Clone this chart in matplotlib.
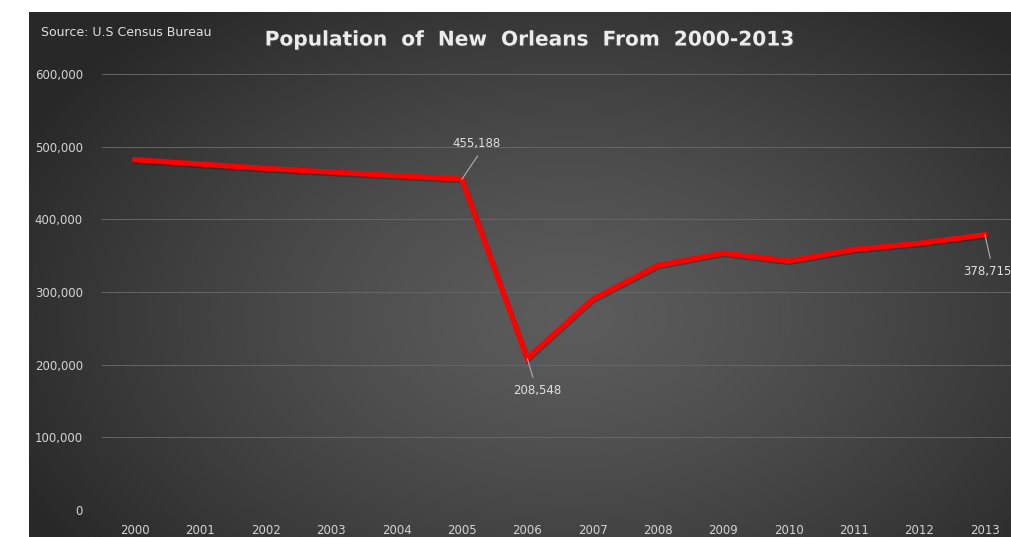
import numpy as np
import matplotlib
matplotlib.use("Agg")
import matplotlib.pyplot as plt
import matplotlib.patheffects as pe
from matplotlib.ticker import FuncFormatter

# data
years = ["2000", "2001", "2002", "2003", "2004", "2005", "2006",
         "2007", "2008", "2009", "2010", "2011", "2012", "2013"]
population = [482000, 476000, 470000, 465000, 460000, 455188, 208548,
              290000, 336500, 353500, 342500, 358500, 367000, 378715]
y_ticks = [0, 100000, 200000, 300000, 400000, 500000, 600000]

W, H = 1011, 537
fig = plt.figure(figsize=(W / 100, H / 100), dpi=100)
fig.patch.set_facecolor("white")

# ----------------------
# background panel with radial gradient
# ----------------------
bg = fig.add_axes([29 / W, 0, 1 - 29 / W, (H - 12) / H])
bg.set_axis_off()
gx, gy = np.meshgrid(np.linspace(0, 1, 400), np.linspace(0, 1, 220))
r = np.sqrt(((gx - 0.55) / 0.62) ** 2 + ((gy - 0.58) / 0.75) ** 2)
r = np.clip(r, 0, 1)
shade = 0.36 - 0.20 * r ** 1.3
img = np.dstack([shade, shade, shade])
bg.imshow(img, aspect="auto", extent=[0, 1, 0, 1], origin="upper")
bg.set_xlim(0, 1)
bg.set_ylim(0, 1)

# ----------------------
# main plot area
# ----------------------
x0_px, step_px = 135, 65.38
left_px = x0_px - step_px / 2
ax = fig.add_axes([left_px / W, 27 / H, (W - left_px) / W, (510 - 74) / H])
ax.patch.set_alpha(0)
x = np.arange(len(years))
ax.set_xlim(-0.5, (W - x0_px) / step_px)
ax.set_ylim(0, 600000)

ax.set_yticks(y_ticks)
ax.yaxis.set_major_formatter(FuncFormatter(lambda v, p: f"{int(v):,}"))
ax.set_xticks(x)
ax.set_xticklabels(years)
ax.tick_params(axis="both", length=0, colors="#d4d4d4", labelsize=8.5)
ax.tick_params(axis="y", pad=14)
ax.tick_params(axis="x", pad=10)
ax.grid(axis="y", color="#666666", linewidth=0.7)
ax.set_axisbelow(True)
for s in ax.spines.values():
    s.set_visible(False)

ax.plot(x, population, color="#ff0000", linewidth=3.8, solid_joinstyle="miter",
        path_effects=[pe.SimpleLineShadow(offset=(0.5, -1), alpha=0.25), pe.Normal()],
        zorder=3)

# data labels with leader lines: (offset x, offset y, relpos on text)
labels = {5: (15, 36, (0.6, 0.0)), 6: (10, -32, (0.45, 1.0)), 13: (2, -37, (0.6, 1.0))}
for i, (dx, dy, rp) in labels.items():
    ax.annotate(f"{population[i]:,}", xy=(x[i], population[i]),
                xytext=(dx, dy), textcoords="offset pixels",
                ha="center", va="center", color="#e0e0e0", fontsize=8.5,
                arrowprops=dict(arrowstyle="-", color="#b0b0b0", lw=0.8,
                                relpos=rp, shrinkA=3, shrinkB=0),
                zorder=4)

# titles
fig.text(41 / W, 1 - 33 / H, "Source: U.S Census Bureau", color="#e0e0e0",
         fontsize=9, ha="left", va="center")
fig.text(530 / W, 1 - 40 / H, "Population  of  New  Orleans  From  2000-2013",
         color="#ececec", fontsize=14.5, fontweight="bold", ha="center", va="center",
         path_effects=[pe.withSimplePatchShadow(offset=(1, -1), alpha=0.6)])

plt.savefig("out.png", dpi=100)
